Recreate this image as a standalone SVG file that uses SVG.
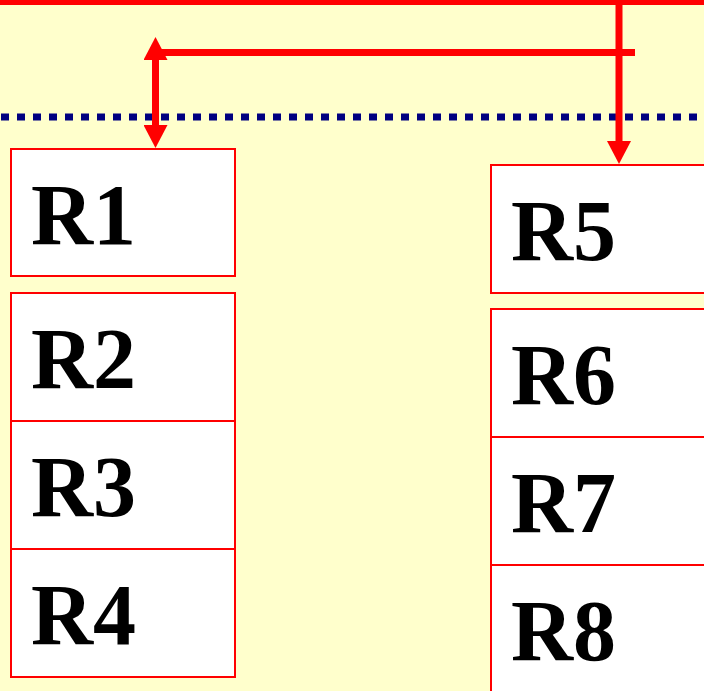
<svg xmlns="http://www.w3.org/2000/svg" width="704" height="691" viewBox="0 0 704 691">
<style>
.box{fill:#ffffff;stroke:#ff0000;stroke-width:2}
.lbl{font-family:"Liberation Serif","Times New Roman",serif;font-weight:bold;font-size:86px;fill:#000000}
.wire{stroke:#ff0000;stroke-width:7;fill:none}
</style>
<defs>
<marker id="ah" markerUnits="userSpaceOnUse" markerWidth="24" markerHeight="24" viewBox="0 0 24 24" refX="0" refY="12" orient="auto-start-reverse">
<path d="M0,0 L23,12 L0,24 Z" fill="#ff0000"/>
</marker>
</defs>
<rect x="0" y="0" width="704" height="691" fill="#ffffcc"/>
<line x1="-10" y1="117" x2="714" y2="117" stroke="#000080" stroke-width="7" stroke-dasharray="8 8" stroke-dashoffset="5"/>
<g id="R1"><rect class="box" x="11" y="149" width="224" height="127"/><text class="lbl" x="31" y="244">R1</text></g>
<g id="R2"><rect class="box" x="11" y="293" width="224" height="128"/><text class="lbl" x="31" y="388">R2</text></g>
<g id="R3"><rect class="box" x="11" y="421" width="224" height="128"/><text class="lbl" x="31" y="516">R3</text></g>
<g id="R4"><rect class="box" x="11" y="549" width="224" height="128"/><text class="lbl" x="31" y="644">R4</text></g>
<g id="R5"><rect class="box" x="491" y="165" width="230" height="128"/><text class="lbl" x="511" y="260">R5</text></g>
<g id="R6"><rect class="box" x="491" y="309" width="230" height="128"/><text class="lbl" x="511" y="404">R6</text></g>
<g id="R7"><rect class="box" x="491" y="437" width="230" height="128"/><text class="lbl" x="511" y="532">R7</text></g>
<g id="R8"><rect class="box" x="491" y="565" width="230" height="128"/><text class="lbl" x="511" y="660">R8</text></g>
<g id="connectors">
<rect x="0" y="0" width="704" height="5" fill="#ff0000"/>
<line class="wire" x1="619" y1="0" x2="619" y2="141" marker-end="url(#ah)"/>
<line class="wire" x1="152" y1="52.5" x2="635" y2="52.5"/>
<line class="wire" x1="155.5" y1="60" x2="155.5" y2="125" marker-start="url(#ah)" marker-end="url(#ah)"/>
</g>
</svg>
